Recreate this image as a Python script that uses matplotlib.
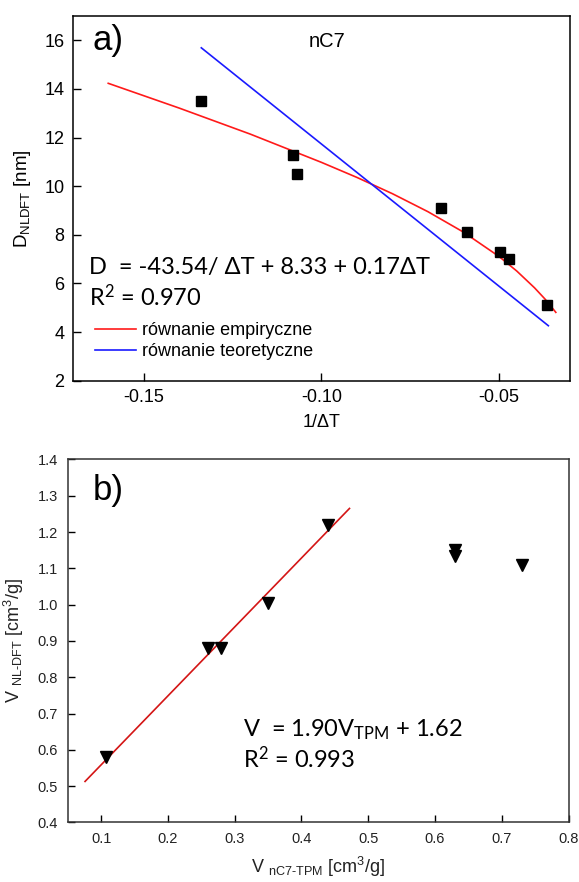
import matplotlib
matplotlib.use("Agg")
import matplotlib.pyplot as plt
import numpy as np

plt.rcParams['font.family'] = ['Liberation Sans', 'DejaVu Sans']
plt.rcParams['mathtext.default'] = 'regular'

# --- panel a) data: D_NLDFT vs 1/dT ---
inv_dT = [-0.1338, -0.1079, -0.1068, -0.0664, -0.0590, -0.0497, -0.0473, -0.0364]
D_nldft = [13.5, 11.3, 10.5, 9.1, 8.1, 7.3, 7.0, 5.1]

emp_x = [-0.160, -0.140, -0.120, -0.100, -0.090, -0.080, -0.070, -0.060,
         -0.050, -0.045, -0.040, -0.037, -0.034]
emp_y = [14.23, 13.21, 12.14, 10.98, 10.36, 9.69, 8.95, 8.11,
         7.11, 6.51, 5.82, 5.35, 4.81]

# theoretical line (blue), end points
teo_x = [-0.1338, -0.0361]
teo_y = [15.69, 4.26]

# --- panel b) data: V_NL-DFT vs V_nC7-TPM ---
v_tpm = [0.108, 0.260, 0.280, 0.350, 0.440, 0.630, 0.630, 0.730]
v_nldft = [0.58, 0.88, 0.88, 1.005, 1.22, 1.15, 1.135, 1.11]

fit_x = [0.076, 0.472]
fit_y = [0.513, 1.265]

fig = plt.figure(figsize=(5.79, 8.82), dpi=100)
eqfont = ['Lato', 'DejaVu Sans']

# ---------------- panel a ----------------
ax1 = fig.add_axes([0.1256, 0.5684, 0.8589, 0.4135])
l_emp, = ax1.plot(emp_x, emp_y, color='#ff1a1a', lw=1.2, label='równanie empiryczne')
l_teo, = ax1.plot(teo_x, teo_y, color='#1a1aff', lw=1.2, label='równanie teoretyczne')
ax1.plot(inv_dT, D_nldft, 's', color='black', ms=7.5, zorder=3)
ax1.set_xlim(-0.17, -0.03)
ax1.set_ylim(2, 17)
ax1.set_xticks([-0.15, -0.10, -0.05])
ax1.set_xticklabels(['-0.15', '-0.10', '-0.05'])
ax1.set_yticks([2, 4, 6, 8, 10, 12, 14, 16])
ax1.tick_params(direction='in', length=6, width=1.0, labelsize=13, pad=6)
for s in ax1.spines.values():
    s.set_linewidth(1.1)
ax1.set_xlabel('1/\u0394T', fontsize=13, labelpad=6)
ax1.set_ylabel(r'D$_{\mathregular{NLDFT}}$ [nm]', fontsize=13.5, labelpad=8)

ax1.text(-0.1644, 15.59, 'a)', fontsize=25, va='baseline')
ax1.text(-0.0985, 15.73, 'nC7', fontsize=14.5, ha='center', va='baseline')
ax1.text(-0.1654, 6.37, 'D  = -43.54/ \u0394T + 8.33 + 0.17\u0394T', fontsize=17,
         family=eqfont, va='baseline')
ax1.text(-0.1654, 5.09, r'R$^{\mathregular{2}}$ = 0.970', fontsize=17, family=eqfont,
         va='baseline')
ax1.legend(handles=[l_emp, l_teo], loc='upper left', bbox_to_anchor=(0.044, 0.16),
           frameon=False, fontsize=13, handlelength=2.3, handletextpad=0.3,
           labelspacing=0.2, borderpad=0, borderaxespad=0)

# ---------------- panel b ----------------
gray = '#222222'
ax2 = fig.add_axes([0.1169, 0.0675, 0.8650, 0.4116])
ax2.plot(fit_x, fit_y, color='#d41515', lw=1.2)
ax2.plot(v_tpm, v_nldft, 'v', color='black', ms=9, zorder=3)
ax2.set_xlim(0.05, 0.8)
ax2.set_ylim(0.4, 1.4)
ax2.set_xticks(np.arange(1, 9) / 10)
ax2.set_yticks(np.arange(4, 15) / 10)
ax2.set_xticklabels(['0.1', '0.2', '0.3', '0.4', '0.5', '0.6', '0.7', '0.8'])
ax2.set_yticklabels(['0.4', '0.5', '0.6', '0.7', '0.8', '0.9', '1.0', '1.1', '1.2', '1.3', '1.4'])
ax2.tick_params(direction='in', length=5, width=1.0, labelsize=10.5, pad=7, labelcolor=gray)
for s in ax2.spines.values():
    s.set_linewidth(1.1)
    s.set_color('#333333')
ax2.set_xlabel('V $_{\\mathregular{nC7\u2010TPM}}$ [cm$^{3}$/g]', fontsize=13, color=gray, labelpad=6)
ax2.set_ylabel('V $_{\\mathregular{NL\u2010DFT}}$ [cm$^{3}$/g]', fontsize=13, color=gray, labelpad=8)

ax2.text(0.0874, 1.288, 'b)', fontsize=25, va='baseline')
ax2.text(0.312, 0.636, r'V  = 1.90V$_{\mathregular{TPM}}$ + 1.62', fontsize=17,
         family=eqfont, va='baseline')
ax2.text(0.312, 0.55, r'R$^{\mathregular{2}}$ = 0.993', fontsize=17, family=eqfont,
         va='baseline')

fig.savefig('out.png', dpi=100)
